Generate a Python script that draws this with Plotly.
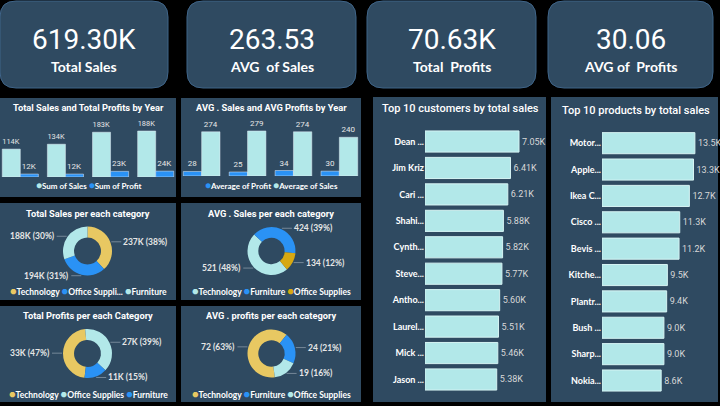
import math
import plotly.graph_objects as go

W, H = 720, 406

# ---------------- data ----------------
kpi_values = ["619.30K", "263.53", "70.63K", "30.06"]
kpi_labels = ["Total Sales", "AVG  of Sales", "Total  Profits", "AVG of  Profits"]

years = ["2014", "2015", "2016", "2017"]
sum_sales = [114, 134, 183, 188]      # K
sum_profit = [12, 12, 23, 24]         # K
avg_profit = [28, 25, 34, 30]
avg_sales = [274, 279, 274, 240]

p3_cats = ["Technology", "Office Supplies", "Furniture"]
p3_legend = ["Technology", "Office Suppli...", "Furniture"]
p3_vals = [236.9, 194.1, 188.3]        # K

p4_cats = ["Technology", "Furniture", "Office Supplies"]
p4_vals = [521, 424, 134]

p5_cats = ["Technology", "Office Supplies", "Furniture"]
p5_vals = [32.86, 27.22, 10.55]        # K

p6_cats = ["Technology", "Furniture", "Office Supplies"]
p6_vals = [72.4, 23.9, 18.6]

customers = ["Dean ...", "Jim Kriz", "Cari ...", "Shahi...", "Cynth...",
             "Steve...", "Antho...", "Laurel...", "Mick ...", "Jason ..."]
customer_sales = [7.05, 6.41, 6.21, 5.88, 5.82, 5.77, 5.60, 5.51, 5.46, 5.38]  # K

products = ["Motor...", "Apple...", "Ikea C...", "Cisco ...", "Bevis ...",
            "Kitche...", "Plantr...", "Bush ...", "Sharp...", "Nokia..."]
product_sales = [13.5, 13.3, 12.7, 11.3, 11.2, 9.5, 9.4, 9.0, 9.0, 8.6]  # K

# ---------------- styles ----------------
BG = "#000000"
PANEL = "#2f4a61"
CYAN = "#b2e8e9"
BLUE = "#2a92f5"
YELLOW = "#e8c862"
GOLD = "#d7a812"
WHITE = "#ffffff"
LBL = "#e6e6e6"
TITLE_FONT = "Roboto"
TXT_FONT = "Lato"

cat_colors = {
    "p3": {"Technology": YELLOW, "Office Supplies": BLUE, "Furniture": CYAN},
    "p4": {"Technology": CYAN, "Furniture": BLUE, "Office Supplies": GOLD},
    "p5": {"Technology": YELLOW, "Office Supplies": CYAN, "Furniture": BLUE},
    "p6": {"Technology": YELLOW, "Furniture": BLUE, "Office Supplies": CYAN},
}


def X(px):
    return px / W


def Y(py):
    return 1 - py / H


fig = go.Figure()
shapes = []
anns = []


def rect(x0, y0, x1, y1, color=PANEL):
    shapes.append(dict(type="rect", xref="paper", yref="paper",
                       x0=X(x0), x1=X(x1), y0=Y(y1), y1=Y(y0),
                       fillcolor=color, line=dict(width=0), layer="below"))


def rounded(x0, y0, x1, y1, r):
    rx, ry = r / W, r / H
    a, b, c, d = X(x0), X(x1), Y(y1), Y(y0)  # left, right, bottom, top
    path = (f"M {a+rx},{d} L {b-rx},{d} Q {b},{d} {b},{d-ry} "
            f"L {b},{c+ry} Q {b},{c} {b-rx},{c} L {a+rx},{c} "
            f"Q {a},{c} {a},{c+ry} L {a},{d-ry} Q {a},{d} {a+rx},{d} Z")
    shapes.append(dict(type="path", xref="paper", yref="paper", path=path,
                       fillcolor=PANEL, line=dict(color="#3f6488", width=1),
                       layer="below"))


def text(x, y, s, size, color=WHITE, family=TXT_FONT, weight="normal",
         xanchor="center"):
    anns.append(dict(x=X(x), y=Y(y), xref="paper", yref="paper", text=s,
                     showarrow=False, xanchor=xanchor, yanchor="middle",
                     font=dict(size=size, color=color, family=family,
                               weight=weight)))


# ---------------- KPI cards ----------------
cards = [(0, 168), (187, 356), (367, 536), (548, 713)]
for (x0, x1), v, l in zip(cards, kpi_values, kpi_labels):
    rounded(x0, 1, x1, 88, 16)
    cx = (x0 + x1) / 2
    text(cx, 40, v, 28, family="Roboto")
    text(cx, 67, l, 14, weight="bold", family=TXT_FONT)

# ---------------- panels ----------------
rect(0, 98, 176, 197)
rect(181, 98, 361, 197)
rect(0, 203, 176, 300)
rect(181, 203, 361, 300)
rect(0, 306, 176, 402)
rect(181, 306, 361, 402)
rect(373, 97, 546, 402)
rect(551, 97, 718, 402)

TS = 9.3
text(88, 107, "Total Sales and Total Profits by Year", TS, weight="bold", family=TITLE_FONT)
text(271, 107, "AVG . Sales and AVG Profits by Year", TS, weight="bold", family=TITLE_FONT)
text(88, 213, "Total Sales per each category", TS, weight="bold", family=TITLE_FONT)
text(271, 213, "AVG . Sales per each category", TS, weight="bold", family=TITLE_FONT)
text(88, 315, "Total Profits per each Category", TS, weight="bold", family=TITLE_FONT)
text(271, 315, "AVG . profits per each category", TS, weight="bold", family=TITLE_FONT)
text(461, 108, "Top 10 customers by total sales", 11, family=TITLE_FONT, weight=500)
text(636, 110, "Top 10 products by total sales", 11, family=TITLE_FONT, weight=500)


def legend(cx, y, items, size=8.5, dot=11):
    parts = [f"<span style='color:{c};font-size:{dot}px'>●</span>{n}" for n, c in items]
    text(cx, y, " ".join(parts), size, color=WHITE, weight="bold")


# ---------------- year bar charts ----------------
bar_lbl = dict(size=8, color=LBL, family=TITLE_FONT)
fig.add_trace(go.Bar(x=years, y=sum_sales, name="Sum of Sales", marker_color=CYAN,
                     text=[f"{v}K" for v in sum_sales], textposition="outside",
                     textfont=bar_lbl, cliponaxis=False, xaxis="x", yaxis="y"))
fig.add_trace(go.Bar(x=years, y=sum_profit, name="Sum of Profit", marker_color=BLUE,
                     text=[f"{v}K" for v in sum_profit], textposition="outside",
                     textfont=bar_lbl, cliponaxis=False, xaxis="x", yaxis="y"))
fig.add_trace(go.Bar(x=years, y=avg_profit, name="Average of Profit", marker_color=BLUE,
                     text=[f"{v}" for v in avg_profit], textposition="outside",
                     textfont=bar_lbl, cliponaxis=False, xaxis="x2", yaxis="y2"))
fig.add_trace(go.Bar(x=years, y=avg_sales, name="Average of Sales", marker_color=CYAN,
                     text=[f"{v}" for v in avg_sales], textposition="outside",
                     textfont=bar_lbl, cliponaxis=False, xaxis="x2", yaxis="y2"))

legend(88, 185, [("Sum of Sales", CYAN), ("Sum of Profit", BLUE)], 8, 10)
legend(271, 185, [("Average of Profit", BLUE), ("Average of Sales", CYAN)], 8, 10)

# ---------------- horizontal bar charts ----------------
hbar_lbl = dict(size=9, color="#d8d8d8", family=TITLE_FONT)
fig.add_trace(go.Bar(y=customers, x=customer_sales, orientation="h",
                     marker=dict(color=CYAN, line=dict(color="#d6f4f4", width=1)),
                     text=[f"{v:.2f}K" for v in customer_sales], textposition="outside",
                     textfont=hbar_lbl, cliponaxis=False, xaxis="x3", yaxis="y3"))
fig.add_trace(go.Bar(y=products, x=product_sales, orientation="h",
                     marker=dict(color=CYAN, line=dict(color="#d6f4f4", width=1)),
                     text=[f"{v:.1f}K" for v in product_sales], textposition="outside",
                     textfont=hbar_lbl, cliponaxis=False, xaxis="x4", yaxis="y4"))


# ---------------- donuts ----------------
def donut(key, cats, vals, cx, cy, r, rotation, fmt, leg_names, leg_cx, leg_y):
    cols = [cat_colors[key][c] for c in cats]
    fig.add_trace(go.Pie(labels=cats, values=vals, hole=0.55, sort=False,
                         direction="clockwise", rotation=rotation,
                         marker=dict(colors=cols, line=dict(width=0)),
                         textinfo="none", hoverinfo="skip",
                         domain=dict(x=[X(cx - r), X(cx + r)],
                                     y=[Y(cy + r), Y(cy - r)])))
    total = sum(vals)
    start = rotation
    for v in vals:
        frac = v / total
        mid = math.radians(start + frac * 180)
        start += frac * 360
        px = cx + (r + 1) * math.sin(mid)
        py = cy - (r + 1) * math.cos(mid)
        right = math.sin(mid) >= 0
        anns.append(dict(x=X(px), y=Y(py), xref="paper", yref="paper",
                         text=fmt(v, frac), showarrow=True, arrowhead=0,
                         arrowwidth=0.8, arrowcolor="#8797a6",
                         ax=10 if right else -10, ay=0,
                         xanchor="left" if right else "right",
                         font=dict(size=8.5, color=LBL, family=TXT_FONT,
                                   weight="bold")))
    legend(leg_cx, leg_y, list(zip(leg_names, cols)))


donut("p3", p3_cats, p3_vals, 87.5, 251, 24.5, 0,
      lambda v, f: f"{v:.0f}K ({f*100:.0f}%)", p3_legend, 88, 290)
donut("p4", p4_cats, p4_vals, 271.5, 251, 24, 140,
      lambda v, f: f"{v:.0f} ({f*100:.0f}%)", p4_cats, 271, 290)
donut("p5", p5_cats, p5_vals, 87.5, 353.5, 24.5, 187,
      lambda v, f: f"{v:.0f}K ({f*100:.0f}%)", p5_cats, 88, 393)
donut("p6", p6_cats, p6_vals, 271.5, 353.5, 24, 172,
      lambda v, f: f"{v:.0f} ({f*100:.0f}%)", p6_cats, 271, 393)

hidden = dict(visible=False, showgrid=False, zeroline=False, fixedrange=True)
fig.update_layout(
    width=W, height=H, margin=dict(l=0, r=0, t=0, b=0),
    paper_bgcolor=BG, plot_bgcolor="rgba(0,0,0,0)", showlegend=False,
    hovermode=False,
    barmode="group", bargap=0.2, bargroupgap=0,
    xaxis=dict(hidden, domain=[X(0), X(176)], range=[-0.45, 3.45], type="category"),
    yaxis=dict(hidden, domain=[Y(177), Y(120)], range=[0, 233]),
    xaxis2=dict(hidden, domain=[X(181), X(360)], range=[-0.45, 3.45], type="category", anchor="y2"),
    yaxis2=dict(hidden, domain=[Y(176), Y(120)], range=[0, 347], anchor="x2"),
    xaxis3=dict(hidden, domain=[X(425), X(545)], range=[0, 9.0], anchor="y3"),
    yaxis3=dict(domain=[Y(392.7), Y(128.3)], anchor="x3", autorange="reversed",
                type="category", showgrid=False, zeroline=False, ticks="",
                fixedrange=True,
                tickfont=dict(size=9, color=WHITE, family=TXT_FONT, weight="bold")),
    xaxis4=dict(hidden, domain=[X(602), X(716)], range=[0, 16.57], anchor="y4"),
    yaxis4=dict(domain=[Y(393.7), Y(130)], anchor="x4", autorange="reversed",
                type="category", showgrid=False, zeroline=False, ticks="",
                fixedrange=True,
                tickfont=dict(size=9, color=WHITE, family=TXT_FONT, weight="bold")),
    shapes=shapes, annotations=anns,
    font=dict(family=TXT_FONT, color=WHITE),
)

fig.write_html("out.html",
               config={"displayModeBar": False, "staticPlot": True},
               post_script="document.body.style.margin='0';"
                           "document.body.style.background='#000';")
